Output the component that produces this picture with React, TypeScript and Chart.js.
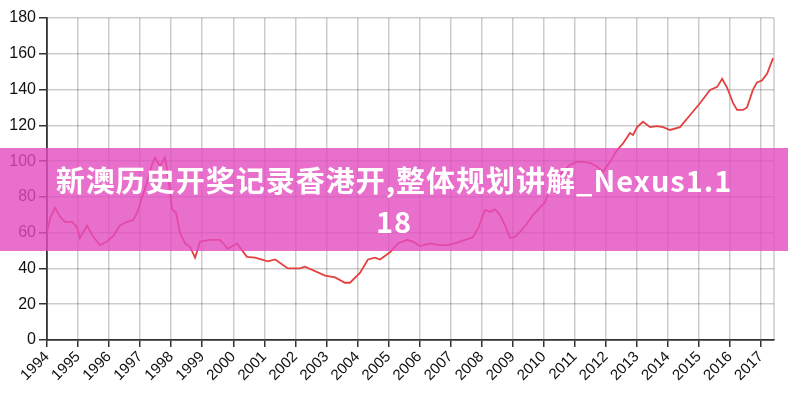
import React, { useEffect, useRef } from "react";
import { Chart, registerables } from "chart.js";

Chart.register(...registerables);

// decimal year of each observation
const dates = [
  1994.0, 1994.1, 1994.26, 1994.42, 1994.58, 1994.81, 1994.97, 1995.06, 1995.29, 1995.48,
  1995.71, 1995.93, 1996.13, 1996.35, 1996.58, 1996.77, 1996.9, 1997.03, 1997.22, 1997.38,
  1997.48, 1997.64, 1997.8, 1997.9, 1998.03, 1998.16, 1998.28, 1998.45, 1998.61, 1998.77,
  1998.93, 1999.25, 1999.57, 1999.83, 2000.12, 2000.44, 2000.7, 2001.12, 2001.35, 2001.76,
  2002.15, 2002.31, 2002.96, 2003.28, 2003.6, 2003.76, 2004.08, 2004.34, 2004.57, 2004.73,
  2005.05, 2005.31, 2005.6, 2005.79, 2006.02, 2006.34, 2006.66, 2006.89, 2007.14, 2007.47,
  2007.72, 2007.89, 2008.11, 2008.27, 2008.43, 2008.59, 2008.76, 2008.92, 2009.08, 2009.24,
  2009.46, 2009.66, 2009.88, 2010.04, 2010.2, 2010.43, 2010.62, 2010.85, 2011.07, 2011.27,
  2011.49, 2011.72, 2011.91, 2012.14, 2012.36, 2012.56, 2012.78, 2012.88, 2013.01, 2013.2,
  2013.43, 2013.65, 2013.85, 2014.07, 2014.39, 2014.72, 2015.04, 2015.36, 2015.59, 2015.75,
  2015.91, 2016.1, 2016.23, 2016.42, 2016.55, 2016.74, 2016.87, 2017.03, 2017.2, 2017.39,
];

// index values
const values = [
  60, 68, 74, 69, 66, 66, 63, 57, 64, 58,
  53, 55, 58, 64, 66, 67, 71, 78, 88, 98,
  102, 97, 102, 92, 73, 71, 60, 54, 52, 46,
  55, 56, 56, 51, 54, 46.5, 46, 44, 45, 40,
  40, 41, 36, 35, 32, 32, 37.5, 45, 46, 45,
  49, 54, 56, 55, 52.5, 54, 53, 53, 54, 56,
  57.5, 62.5, 72.7, 71.6, 73, 70, 64, 57, 57.6, 60.4,
  65, 70, 74, 77, 84, 90.5, 94, 98, 99.6, 99.6,
  99, 97, 94, 99.6, 106, 110, 115.7, 114.6, 119, 122,
  119, 119.6, 119, 117.4, 119, 125.8, 132.5, 139.8, 141.5, 146,
  141, 132.5, 128.6, 128.6, 130, 139.8, 144, 145, 149, 157.6,
];

const yearTicks = [
  1994, 1995, 1996, 1997, 1998, 1999, 2000, 2001, 2002, 2003, 2004, 2005,
  2006, 2007, 2008, 2009, 2010, 2011, 2012, 2013, 2014, 2015, 2016, 2017,
];
const yTicks = [0, 20, 40, 60, 80, 100, 120, 140, 160, 180];

const xMin = 1994;
const xMax = 2017.42;

const bannerText1 = "新澳历史开奖记录香港开,整体规划讲解_Nexus1.1";
const bannerText2 = "18";

const frame = {
  id: "frame",
  beforeDatasetsDraw(chart: any) {
    const { ctx, chartArea } = chart;
    ctx.save();
    ctx.strokeStyle = "rgba(0,0,0,0.2)";
    ctx.lineWidth = 1.5;
    ctx.beginPath();
    ctx.moveTo(chartArea.right, chartArea.top);
    ctx.lineTo(chartArea.right, chartArea.bottom);
    ctx.stroke();
    ctx.restore();
  },
};

export default function App() {
  const ref = useRef<HTMLCanvasElement | null>(null);

  useEffect(() => {
    if (!ref.current) return;
    const chart = new Chart(ref.current, {
      type: "line",
      data: {
        datasets: [
          {
            data: dates.map((d, i) => ({ x: d, y: values[i] })),
            borderColor: "#e3403f",
            borderWidth: 1.8,
            pointRadius: 0,
            tension: 0,
            fill: false,
          },
        ],
      },
      options: {
        animation: false,
        responsive: false,
        plugins: { legend: { display: false }, tooltip: { enabled: false } },
        layout: { padding: { top: 18, right: 14, bottom: 0, left: 0 } },
        scales: {
          x: {
            type: "linear",
            min: xMin,
            max: xMax,
            afterBuildTicks: (scale: any) => {
              scale.ticks = yearTicks.map((v) => ({ value: v }));
            },
            afterFit: (scale: any) => {
              scale.height = 60;
            },
            ticks: {
              autoSkip: false,
              maxRotation: 45,
              minRotation: 45,
              padding: 1,
              color: "#111",
              font: { size: 15, family: "Liberation Sans" },
              callback: (v: any) => String(v),
            },
            grid: {
              color: "rgba(0,0,0,0.2)",
              lineWidth: 1.5,
              tickLength: 7,
              tickColor: "#333",
              tickWidth: 1.5,
            },
            border: { color: "#333", width: 1.8 },
          },
          y: {
            min: 0,
            max: 180,
            afterBuildTicks: (scale: any) => {
              scale.ticks = yTicks.map((v) => ({ value: v }));
            },
            afterFit: (scale: any) => {
              scale.width = 47;
            },
            ticks: {
              padding: 3,
              color: "#111",
              font: { size: 16, family: "Liberation Sans" },
            },
            grid: {
              color: "rgba(0,0,0,0.2)",
              lineWidth: 1.5,
              tickLength: 8,
              tickColor: "#333",
              tickWidth: 1.5,
            },
            border: { color: "#333", width: 1.8 },
          },
        },
      },
      plugins: [frame],
    });
    return () => chart.destroy();
  }, []);

  return (
    <div
      style={{
        position: "absolute",
        left: 0,
        top: 0,
        width: 788,
        height: 400,
        background: "#fff",
        overflow: "hidden",
      }}
    >
      <canvas ref={ref} width={788} height={400} style={{ display: "block" }} />
      <div
        style={{
          position: "absolute",
          left: 0,
          top: 148,
          width: 788,
          height: 103,
          boxSizing: "border-box",
          paddingTop: 11,
          background: "rgba(228,75,192,0.8)",
          color: "#fff",
          fontFamily: "'Noto Sans CJK SC', 'Noto Sans', sans-serif",
          fontWeight: 700,
          fontSize: 29,
          letterSpacing: 1,
          lineHeight: "41px",
          textAlign: "center",
          whiteSpace: "nowrap",
        }}
      >
        {bannerText1}
        <br />
        {bannerText2}
      </div>
    </div>
  );
}
